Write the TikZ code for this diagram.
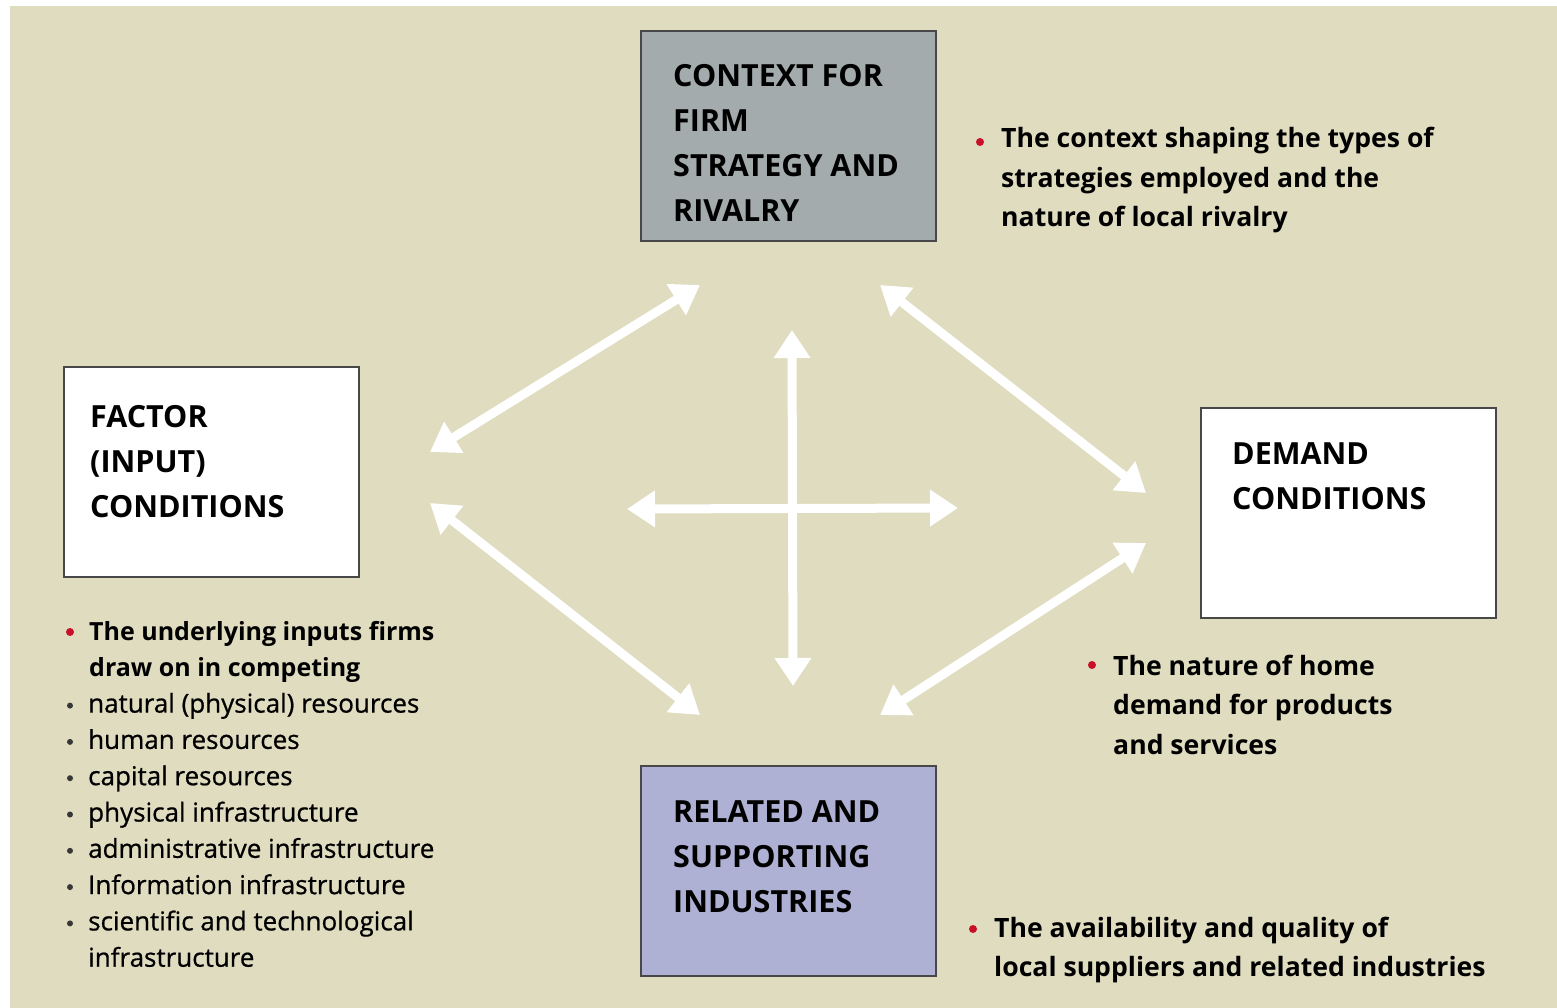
\documentclass[tikz,border=0pt]{standalone}
\usepackage{fontspec}
\setmainfont{Open Sans}
\newfontfamily\listfont[FakeBold=0.7]{Open Sans}
\usetikzlibrary{arrows.meta}

\definecolor{panel}{RGB}{223,220,191}
\definecolor{ctxfill}{RGB}{164,171,172}
\definecolor{relfill}{RGB}{175,177,212}
\definecolor{edge}{RGB}{72,72,72}
\definecolor{dotred}{RGB}{200,16,40}
\definecolor{dotgray}{RGB}{55,55,55}

% first line's baseline sits on the node's base anchor
\newcommand\topalign[2]{\parbox[t]{#1}{\raggedright #2}}

\tikzset{
  box/.style={draw=edge, line width=2.4pt, anchor=north west, inner sep=0pt,
              minimum width=295pt, minimum height=210pt},
  boxtext/.style={anchor=base west, inner sep=0pt,
                  font=\bfseries\fontsize{30.5}{45}\selectfont},
  bullettext/.style={anchor=base west, inner sep=0pt,
                     font=\bfseries\fontsize{26.6}{39.5}\selectfont},
  leadtext/.style={anchor=base west, inner sep=0pt,
                   font=\bfseries\fontsize{25}{36.3}\selectfont},
  listtext/.style={anchor=base west, inner sep=0pt,
                   font=\listfont\fontsize{26}{36.3}\selectfont},
  link/.style={draw=white, line width=9pt,
               {Triangle[length=28pt,width=35pt]}-{Triangle[length=28pt,width=35pt]}},
}

\begin{document}
\begin{tikzpicture}[x=1pt,y=-1pt]
\useasboundingbox (0,0) rectangle (1557,1008);
\fill[panel] (10,6) rectangle (1557,1008);

% the four determinants
\node[box, fill=ctxfill] (ctx) at (640,30) {};
\node[box, fill=white]   (fac) at (63,366) {};
\node[box, fill=white]   (dem) at (1200,407) {};
\node[box, fill=relfill] (rel) at (640,765) {};

\node[boxtext] (ctxt) at (673,87)  {\topalign{280pt}{CONTEXT FOR\\FIRM\\STRATEGY AND\\RIVALRY}};
\node[boxtext] (fact) at (90,427)  {\topalign{260pt}{FACTOR\\(INPUT)\\CONDITIONS}};
\node[boxtext] (demt) at (1232,464){\topalign{260pt}{DEMAND\\CONDITIONS}};
\node[boxtext] (relt) at (673,822) {\topalign{260pt}{RELATED AND\\SUPPORTING\\INDUSTRIES}};

% arrow end points
\coordinate (tlA) at (430,452);  \coordinate (tlB) at (700,285);
\coordinate (trA) at (880,285);  \coordinate (trB) at (1146,493);
\coordinate (blA) at (430,503);  \coordinate (blB) at (700,715);
\coordinate (brA) at (880,715);  \coordinate (brB) at (1146,543);
\coordinate (vA)  at (792,330);  \coordinate (vB)  at (793,686);
\coordinate (hA)  at (627,509);  \coordinate (hB)  at (958,508);

\draw[link] (tlA) -- (tlB);
\draw[link] (trA) -- (trB);
\draw[link] (blA) -- (blB);
\draw[link] (brA) -- (brB);
\draw[link] (vA) -- (vB);
\draw[link] (hA) -- (hB);

% descriptions
\fill[dotred] (980,142) circle (4pt);
\node[bullettext] (ctxd) at (1001,148) {\topalign{540pt}{The context shaping the types of\\strategies employed and the\\nature of local rivalry}};

\fill[dotred] (1092,665) circle (4pt);
\node[bullettext] (demd) at (1113,675) {\topalign{420pt}{The nature of home\\demand for products\\and services}};

\fill[dotred] (973,929) circle (4pt);
\node[bullettext] (reld) at (994,937) {\topalign{560pt}{The availability and quality of\\local suppliers and related industries}};

\fill[dotred] (70,632) circle (4pt);
\node[leadtext] (facd) at (89,640)
  {\topalign{420pt}{The underlying inputs firms\\draw on in competing}};
\foreach \k in {2,...,8} {
  \fill[dotgray] (70,{640+\k*36.3-7}) circle (3pt);
}
\node[listtext] (facl) at (88,712.6) {\topalign{440pt}{natural (physical) resources\\human resources\\capital resources\\physical infrastructure\\administrative infrastructure\\Information infrastructure\\scientific and technological\\infrastructure}};
\end{tikzpicture}
\end{document}
